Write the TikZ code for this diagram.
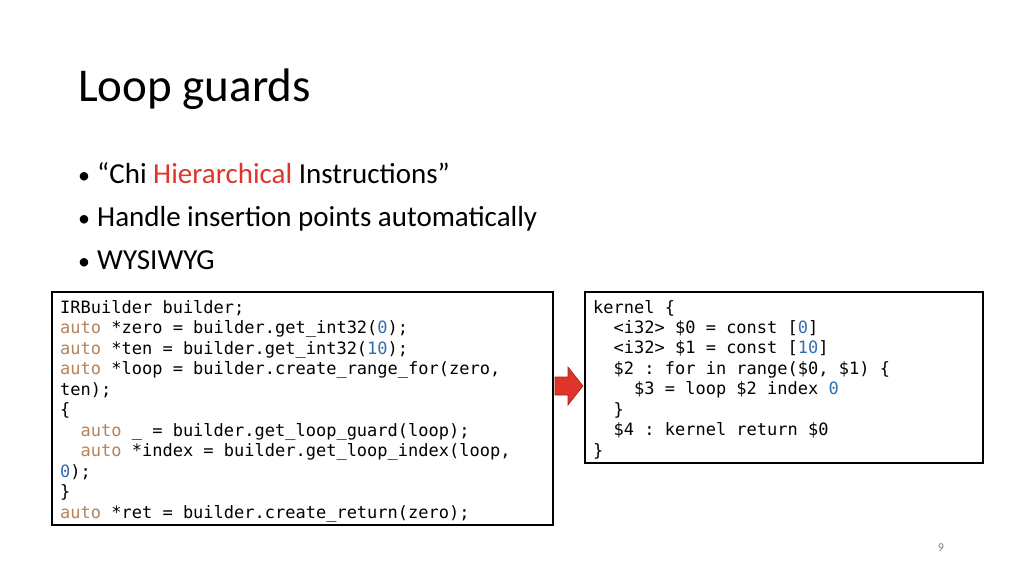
\documentclass[tikz,border=0pt]{standalone}
\usepackage{fontspec}
\setmainfont{Carlito}
\setmonofont{DejaVu Sans Mono}
\begin{document}
\begin{tikzpicture}[x=1pt,y=-1pt,
  code/.style={anchor=base west,inner sep=0pt,font=\fontsize{17}{20}\ttfamily},
  box/.style={draw=black,line width=1.2pt},
  bul/.style={anchor=base west,inner sep=0pt,font=\fontsize{29}{32}\selectfont}]
\definecolor{kw}{HTML}{B5835A}
\definecolor{num}{HTML}{2F6FB0}
\definecolor{hi}{HTML}{E0342A}
\newcommand{\K}[1]{\textcolor{kw}{#1}}
\newcommand{\N}[1]{\textcolor{num}{#1}}
\newcommand{\B}{\makebox[19pt][l]{\fontsize{24}{28}\selectfont•}}
\useasboundingbox[fill=white] (0,0) rectangle (1024,575);
\node[anchor=base west,inner sep=0pt,font=\fontsize{47}{52}\selectfont] (title) at (78,102) {Loop guards};
\node[bul] (b1) at (78,183) {\B“Chi \textcolor{hi}{Hierarchical} Instructions”};
\node[bul] (b2) at (78,226) {\B Handle insertion points automatically};
\node[bul] (b3) at (78,269) {\B WYSIWYG};
\draw[box] (52,292) rectangle (553,525);
\draw[box] (585,292) rectangle (983,463);
\foreach \i/\t in {0/{IRBuilder builder;},
 1/{\K{auto} *zero = builder.get\_int32(\N{0});},
 2/{\K{auto} *ten = builder.get\_int32(\N{10});},
 3/{\K{auto} *loop = builder.create\_range\_for(zero,},
 4/{ten);},
 5/{\{},
 6/{\ \ \K{auto} \_ = builder.get\_loop\_guard(loop);},
 7/{\ \ \K{auto} *index = builder.get\_loop\_index(loop,},
 8/{\N{0});},
 9/{\}},
 10/{\K{auto} *ret = builder.create\_return(zero);}}
  \node[code] (l\i) at (60,313+20.5*\i) {\t};
\foreach \i/\t in {0/{kernel \{},
 1/{\ \ <i32> \$0 = const [\N{0}]},
 2/{\ \ <i32> \$1 = const [\N{10}]},
 3/{\ \ \$2 : for in range(\$0, \$1) \{},
 4/{\ \ \ \ \$3 = loop \$2 index \N{0}},
 5/{\ \ \}},
 6/{\ \ \$4 : kernel return \$0},
 7/{\}}}
  \node[code] (r\i) at (593,313+20.45*\i) {\t};
\draw[fill=hi,draw=hi!70!black,line width=0.6pt] (555,377)--(568,377)--(568,367)--(583,386)--(568,405)--(568,395)--(555,395)--cycle;
\node[font=\fontsize{12}{14}\selectfont,text=gray] (pg) at (941,548) {9};
\end{tikzpicture}
\end{document}
